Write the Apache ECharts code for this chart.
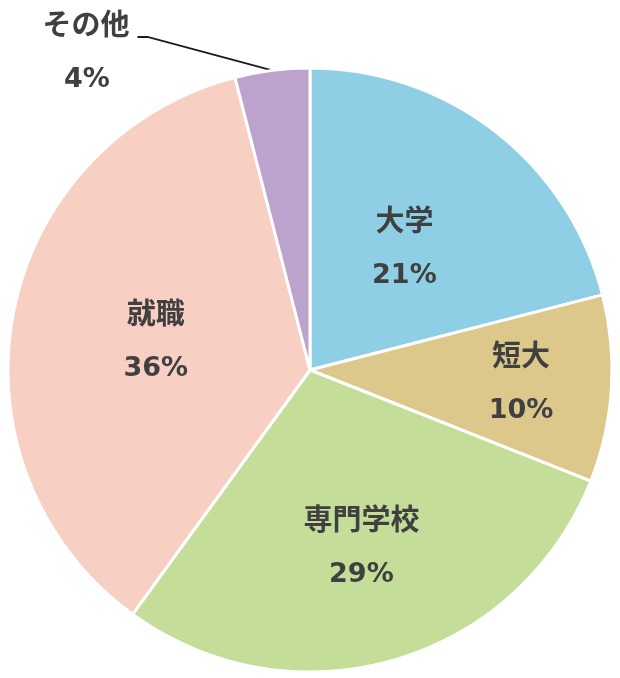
<!DOCTYPE html>
<html>
<head>
<meta charset="utf-8">
<script src="https://cdn.jsdelivr.net/npm/echarts@6/dist/echarts.min.js"></script>
<style>
  html, body { margin: 0; padding: 0; background: #fff; }
  #pieChart { width: 620px; height: 678px; }
</style>
</head>
<body>
<div id="pieChart"></div>
<script>
// 進路データ
const categories = ['大学', '短大', '専門学校', '就職', 'その他'];
const shares = [21, 10, 29, 36, 4];
const sliceColors = ['#8ECFE6', '#DDC88C', '#C4DD98', '#F7CFC3', '#BCA3CD'];
// ラベルの中心からの距離（半径比）
const labelRatios = [0.51, 0.70, 0.61, 0.52, 0];

const cx = 310, cy = 370, R = 302;
const total = shares.reduce((a, b) => a + b, 0);
const OTHER = 4;

function midAngle(i) {
  let before = 0;
  for (let k = 0; k < i; k++) before += shares[k];
  return (before + shares[i] / 2) / total * Math.PI * 2;
}

const nameStyle = { fontSize: 29, fontWeight: 'bold', color: '#404040', lineHeight: 56,
                    fontFamily: '"Noto Sans CJK JP", sans-serif' };
const pctStyle = { fontSize: 27, fontWeight: 'bold', color: '#404040', lineHeight: 56,
                   fontFamily: '"DejaVu Sans", sans-serif' };

let myChart = echarts.init(document.getElementById('pieChart'));
myChart.setOption({
  animation: false,
  series: [{
    // 本体の円グラフ
    type: 'pie',
    center: [cx, cy],
    radius: [0, R],
    startAngle: 90,
    clockwise: true,
    percentPrecision: 0,
    itemStyle: { borderColor: '#fff', borderWidth: 3 },
    label: {
      position: 'inside',
      formatter: '{n|{b}}\n{p|{d}%}',
      rich: { n: nameStyle, p: pctStyle }
    },
    labelLayout: function (params) {
      let i = params.dataIndex;
      if (i === OTHER) {
        return { x: 90, y: 37, align: 'center', verticalAlign: 'middle' };
      }
      let a = midAngle(i);
      return {
        x: cx + labelRatios[i] * R * Math.sin(a),
        y: cy - labelRatios[i] * R * Math.cos(a),
        align: 'center',
        verticalAlign: 'middle'
      };
    },
    data: categories.map((name, i) => {
      let d = { name: name, value: shares[i], itemStyle: { color: sliceColors[i] } };
      if (i === OTHER) {
        d.label = { position: 'outside', formatter: '{n|{b}}',
                    padding: [0, 8, 26, 0], backgroundColor: 'rgba(255,255,255,0)' };
        d.labelLine = { show: true, length: 20, length2: 10,
                        lineStyle: { color: '#1a1a1a', width: 1.8 } };
      }
      return d;
    })
  }, {
    // その他の％だけ表示する透明レイヤー
    type: 'pie',
    silent: true,
    center: [cx, cy],
    radius: [0, R],
    startAngle: 90,
    clockwise: true,
    percentPrecision: 0,
    itemStyle: { color: 'rgba(0,0,0,0)', borderWidth: 0 },
    label: { show: false },
    labelLine: { show: false },
    labelLayout: function (params) {
      return { x: 87, y: 80, align: 'center', verticalAlign: 'middle' };
    },
    data: categories.map((name, i) => {
      let d = { name: name, value: shares[i] };
      if (i === OTHER) {
        d.label = { show: true, position: 'outside', formatter: '{p|{d}%}', rich: { p: pctStyle } };
      }
      return d;
    })
  }]
});
</script>
</body>
</html>
